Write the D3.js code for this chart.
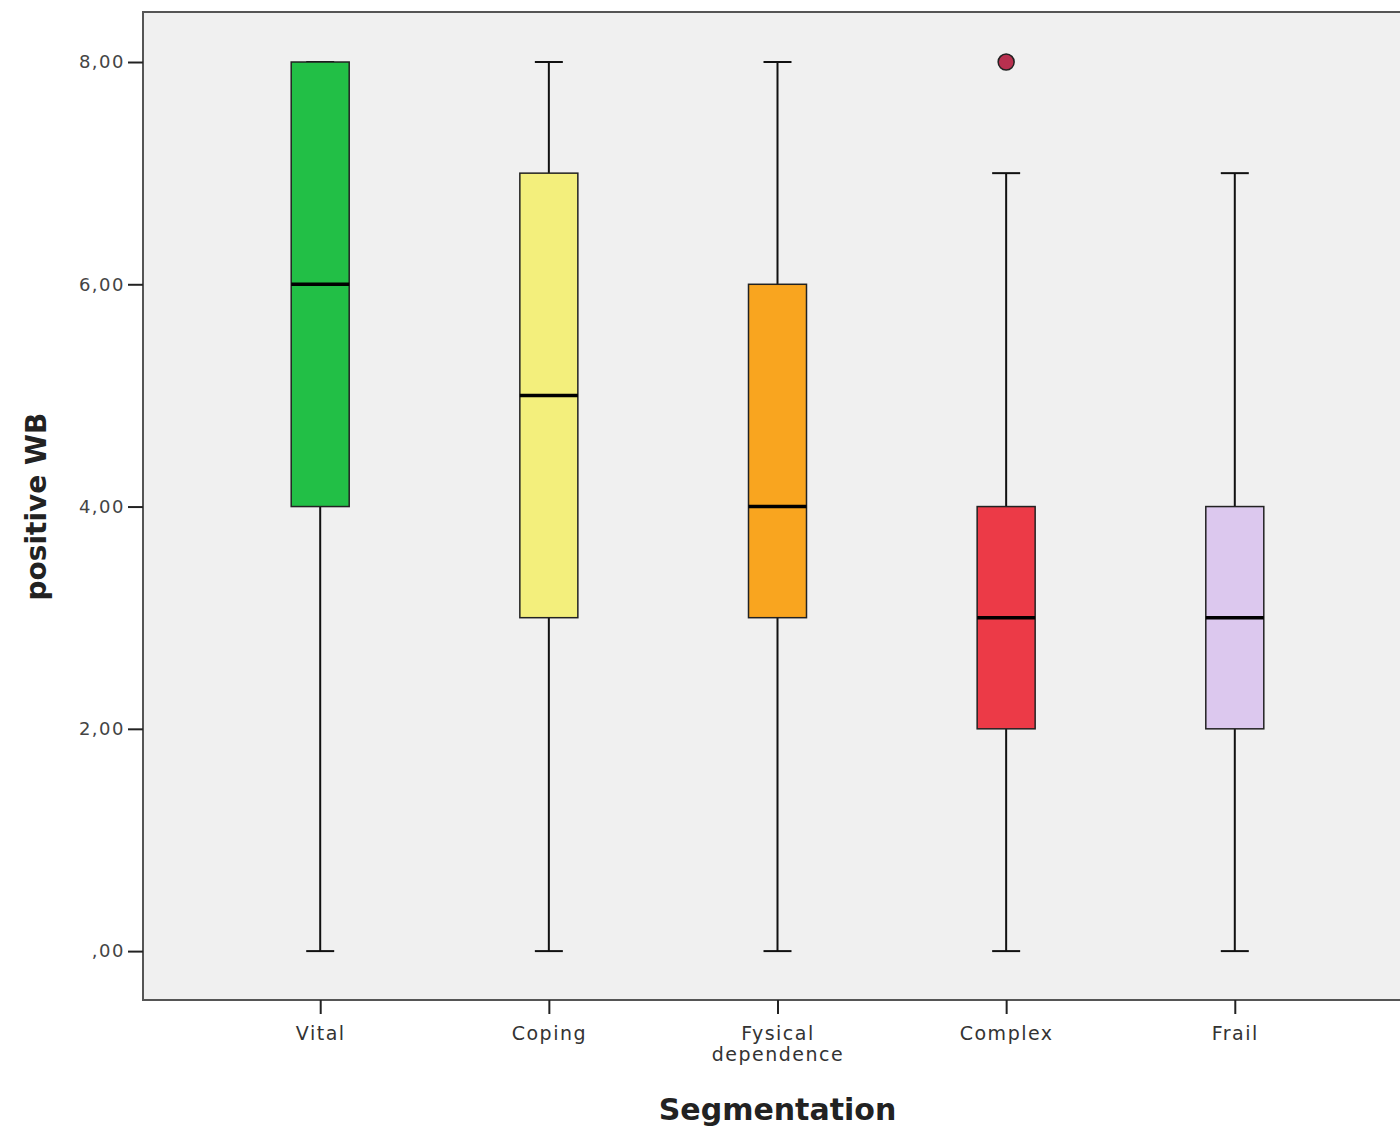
<!DOCTYPE html>
<html>
<head>
<meta charset="utf-8">
<script src="https://cdn.jsdelivr.net/npm/d3@7"></script>
<style>
  body { margin: 0; background: #fff; }
  svg { display: block; font-family: "DejaVu Sans", Verdana, sans-serif; }
</style>
</head>
<body>
<svg id="chart" width="1400" height="1129"></svg>
<script>
var categories = ["Vital", "Coping", "Fysical dependence", "Complex", "Frail"];
var mins    = [0, 0, 0, 0, 0];
var q1s     = [4, 3, 3, 2, 2];
var medians = [6, 5, 4, 3, 3];
var q3s     = [8, 7, 6, 4, 4];
var maxs    = [8, 8, 8, 7, 7];
var outliers = [[], [], [], [8], []];
var colors  = ["#22bf46", "#f3ef7c", "#f9a51f", "#ec3a47", "#dcc8ee"];
var yTicks  = [0, 2, 4, 6, 8];
var yTickLabels = [",00", "2,00", "4,00", "6,00", "8,00"];

var svg = d3.select("#chart"),
    margin = {top: 12, right: -12, bottom: 129, left: 143},
    width = +svg.attr("width") - margin.left - margin.right,
    height = +svg.attr("height") - margin.top - margin.bottom;

var data = categories.map(function(c, i) {
  return {cat: c, min: mins[i], q1: q1s[i], med: medians[i], q3: q3s[i],
          max: maxs[i], out: outliers[i], color: colors[i]};
});

var x = d3.scalePoint().domain(categories).range([0, width]).padding(0.775),
    y = d3.scaleLinear().domain([-0.44, 8.45]).range([height, 0]);

var g = svg.append("g")
    .attr("transform", "translate(" + margin.left + "," + margin.top + ")");

// plot background
g.append("rect")
    .attr("width", width)
    .attr("height", height)
    .attr("fill", "#f0f0f0")
    .attr("stroke", "#555")
    .attr("stroke-width", 2);

var boxW = 58, capW = 28;

var box = g.selectAll(".box")
  .data(data)
  .enter().append("g")
    .attr("class", "box")
    .attr("transform", function(d) { return "translate(" + x(d.cat) + ",0)"; });

// whiskers
box.append("line")
    .attr("y1", function(d) { return y(d.max); })
    .attr("y2", function(d) { return y(d.q3); })
    .attr("stroke", "#111").attr("stroke-width", 2);
box.append("line")
    .attr("y1", function(d) { return y(d.q1); })
    .attr("y2", function(d) { return y(d.min); })
    .attr("stroke", "#111").attr("stroke-width", 2);
box.selectAll(".cap")
  .data(function(d) { return [d.min, d.max]; })
  .enter().append("line")
    .attr("class", "cap")
    .attr("x1", -capW / 2).attr("x2", capW / 2)
    .attr("y1", function(v) { return y(v); })
    .attr("y2", function(v) { return y(v); })
    .attr("stroke", "#111").attr("stroke-width", 2);

box.append("rect")
    .attr("x", -boxW / 2)
    .attr("width", boxW)
    .attr("y", function(d) { return y(d.q3); })
    .attr("height", function(d) { return y(d.q1) - y(d.q3); })
    .attr("fill", function(d) { return d.color; })
    .attr("stroke", "#222")
    .attr("stroke-width", 1.5);

box.append("line")
    .attr("x1", -boxW / 2).attr("x2", boxW / 2)
    .attr("y1", function(d) { return y(d.med); })
    .attr("y2", function(d) { return y(d.med); })
    .attr("stroke", "#000").attr("stroke-width", 3.5);

box.selectAll(".outlier")
  .data(function(d) { return d.out; })
  .enter().append("circle")
    .attr("class", "outlier")
    .attr("cy", function(v) { return y(v); })
    .attr("r", 8)
    .attr("fill", "#b8304f")
    .attr("stroke", "#222")
    .attr("stroke-width", 1.5);

// axes
var yAxis = g.append("g")
    .call(d3.axisLeft(y).tickValues(yTicks)
      .tickFormat(function(d, i) { return yTickLabels[i]; })
      .tickSize(15).tickPadding(3));
yAxis.select(".domain").remove();
yAxis.selectAll("line").attr("stroke", "#222").attr("stroke-width", 2);
yAxis.selectAll("text")
    .attr("fill", "#444")
    .style("font-family", "'DejaVu Sans', sans-serif")
    .style("font-size", "18px")
    .style("letter-spacing", "1.5px");

var xAxis = g.append("g")
    .attr("transform", "translate(0," + height + ")")
    .call(d3.axisBottom(x).tickSize(14).tickPadding(13));
xAxis.select(".domain").remove();
xAxis.selectAll("line").attr("stroke", "#222").attr("stroke-width", 2);
xAxis.selectAll("text")
    .attr("fill", "#333")
    .style("font-family", "'DejaVu Sans', sans-serif")
    .style("font-size", "19px")
    .style("letter-spacing", "1.5px")
    .each(function(d) {
      var words = d.split(" ");
      if (words.length > 1) {
        var t = d3.select(this).text(null);
        words.forEach(function(w, i) {
          t.append("tspan").attr("x", 0).attr("dy", i === 0 ? "0.71em" : "1.1em").text(w);
        });
      }
    });

// axis titles
svg.append("text")
    .attr("transform", "translate(46," + (margin.top + y(4)) + ") rotate(-90)")
    .attr("text-anchor", "middle")
    .style("font-size", "28px")
    .style("font-weight", "bold")
    .attr("fill", "#222")
    .text("positive WB");

svg.append("text")
    .attr("x", margin.left + x("Fysical dependence"))
    .attr("y", 1120)
    .attr("text-anchor", "middle")
    .style("font-size", "30px")
    .style("font-weight", "bold")
    .attr("fill", "#222")
    .text("Segmentation");
</script>
</body>
</html>
